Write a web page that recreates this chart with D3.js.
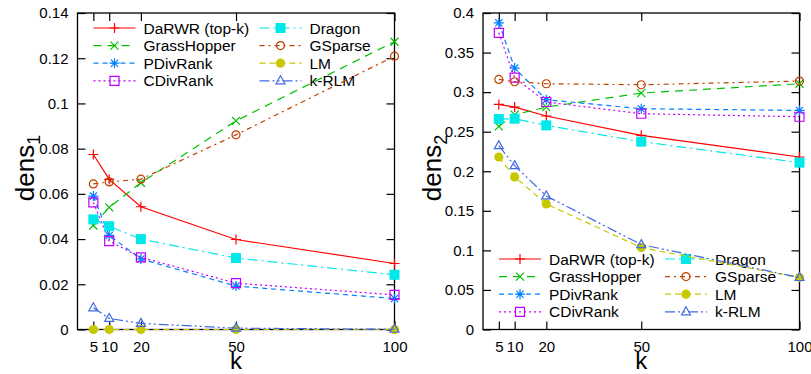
<!DOCTYPE html>
<html>
<head>
<meta charset="utf-8">
<script src="https://cdn.jsdelivr.net/npm/d3@7"></script>
<style>
  body { margin: 0; background: #fff; }
  svg text { font-family: "Liberation Sans", Arial, sans-serif; }
</style>
</head>
<body>
<div class="chart"></div>
<script>
let width = 811
let height = 374

// k values on the x axis
let kValues = [5, 10, 20, 50, 100]

let methods = ['DaRWR (top-k)', 'GrassHopper', 'PDivRank', 'CDivRank',
               'Dragon', 'GSparse', 'LM', 'k-RLM']

// dens1 (left panel), one array per method
let dens1DaRWR = [0.0774, 0.0664, 0.0543, 0.0398, 0.0292]
let dens1GrassHopper = [0.0460, 0.0540, 0.0649, 0.0923, 0.1273]
let dens1PDivRank = [0.0590, 0.0416, 0.0312, 0.0192, 0.0137]
let dens1CDivRank = [0.0562, 0.0391, 0.0319, 0.0205, 0.0153]
let dens1Dragon = [0.0487, 0.0457, 0.0400, 0.0316, 0.0242]
let dens1GSparse = [0.0644, 0.0653, 0.0665, 0.0861, 0.1209]
let dens1LM = [0, 0, 0, 0, 0]
let dens1KRLM = [0.0096, 0.0049, 0.0027, 0.0006, 0.0001]

// dens2 (right panel)
let dens2DaRWR = [0.2845, 0.2811, 0.2698, 0.2454, 0.2180]
let dens2GrassHopper = [0.2567, 0.2715, 0.2811, 0.2988, 0.3106]
let dens2PDivRank = [0.3876, 0.3304, 0.2904, 0.2790, 0.2769]
let dens2CDivRank = [0.3750, 0.3182, 0.2875, 0.2727, 0.2689]
let dens2Dragon = [0.2660, 0.2664, 0.2580, 0.2374, 0.2109]
let dens2GSparse = [0.3161, 0.3131, 0.3106, 0.3093, 0.3140]
let dens2LM = [0.2180, 0.1928, 0.1587, 0.1035, 0.0657]
let dens2KRLM = [0.2323, 0.2071, 0.1688, 0.1073, 0.0657]

let dens1Ticks = [0, 0.02, 0.04, 0.06, 0.08, 0.1, 0.12, 0.14]
let dens2Ticks = [0, 0.05, 0.1, 0.15, 0.2, 0.25, 0.3, 0.35, 0.4]

// gnuplot-ish line styles
let colors = ['#ff0000', '#00c000', '#0080ff', '#c000ff',
              '#00e8e8', '#c04000', '#c8c800', '#4169e1']
let dashes = [null, '8,6', '5,4', '2,3', '10,4,2,4', '5,4,2,4', '6,4', '10,3,2,3,2,3']
let markers = ['plus', 'cross', 'star', 'box', 'fbox', 'circle', 'fcircle', 'triangle']

let svg = d3.select('div.chart')
    .append('svg')
    .attr('width', width)
    .attr('height', height)

function drawMarker(g, type, color) {
    let strokeShapes = {
        plus: 'M-5,0H5M0,-5V5',
        cross: 'M-4,-4L4,4M-4,4L4,-4',
        star: 'M-5,0H5M0,-5V5M-3.6,-3.6L3.6,3.6M-3.6,3.6L3.6,-3.6',
        box: 'M-4.5,-4.5H4.5V4.5H-4.5Z',
        circle: 'M-4,0A4,4 0 1,0 4,0A4,4 0 1,0 -4,0Z',
        triangle: 'M0,-5L4.5,3L-4.5,3Z'
    }
    if (type == 'fbox') {
        g.append('rect').attr('x', -5).attr('y', -5).attr('width', 10).attr('height', 10)
            .style('fill', color)
    } else if (type == 'fcircle') {
        g.append('circle').attr('r', 4.6).style('fill', color)
    } else {
        g.append('path').attr('d', strokeShapes[type])
            .style('fill', 'none').style('stroke', color).style('stroke-width', 1.2)
    }
}

function tickText(d) {
    return d === 0 ? '0' : String(+d.toFixed(2))
}

function drawPanel(cfg) {
    let x = d3.scaleLinear().domain([0, 100]).range([cfg.left, cfg.right])
    let y = d3.scaleLinear().domain([0, cfg.yMax]).range([cfg.bottom, cfg.top])
    let g = svg.append('g')

    // axes with inward ticks, mirrored on top and right
    let ax = [
        [d3.axisBottom(x).tickValues(kValues).tickFormat(d3.format('d')).tickPadding(12), 'translate(0,' + cfg.bottom + ')'],
        [d3.axisTop(x).tickValues(kValues).tickFormat(''), 'translate(0,' + cfg.top + ')'],
        [d3.axisLeft(y).tickValues(cfg.ticks).tickFormat(tickText).tickPadding(9), 'translate(' + cfg.left + ',0)'],
        [d3.axisRight(y).tickValues(cfg.ticks).tickFormat(''), 'translate(' + cfg.right + ',0)']
    ]
    ax.forEach(function(a) {
        let ag = g.append('g')
            .attr('transform', a[1])
            .call(a[0].tickSizeInner(-8).tickSizeOuter(0))
        ag.select('.domain').remove()
        ag.selectAll('line').style('stroke', '#000').style('stroke-width', 1.2)
        ag.selectAll('text').style('font-size', '15px').style('fill', '#000')
            .style('font-family', '"Liberation Sans", Arial, sans-serif')
    })

    g.append('rect')
        .attr('x', cfg.left).attr('y', cfg.top)
        .attr('width', cfg.right - cfg.left).attr('height', cfg.bottom - cfg.top)
        .style('fill', 'none').style('stroke', '#000').style('stroke-width', 1.3)

    // legend (no background box)
    let lg = g.append('g')
    methods.forEach(function(name, i) {
        let col = Math.floor(i / 4)
        let row = i % 4
        let x0 = cfg.left + 16 + col * 166
        let yy = cfg.legendTop + row * 17.6
        lg.append('line')
            .attr('x1', x0).attr('x2', x0 + 42).attr('y1', yy).attr('y2', yy)
            .style('stroke', colors[i]).style('stroke-width', 1.2)
            .style('stroke-dasharray', dashes[i])
        drawMarker(lg.append('g').attr('transform', 'translate(' + (x0 + 21) + ',' + yy + ')'),
            markers[i], colors[i])
        lg.append('text')
            .attr('x', x0 + 50).attr('y', yy + 5.5)
            .style('font-size', '15.5px')
            .text(name)
    })

    // series lines and points
    let line = d3.line().x((d, i) => x(kValues[i])).y(d => y(d))
    cfg.series.forEach(function(vals, i) {
        g.append('path')
            .datum(vals)
            .attr('d', line)
            .style('fill', 'none')
            .style('stroke', colors[i])
            .style('stroke-width', 1.2)
            .style('stroke-dasharray', dashes[i])
        vals.forEach(function(v, j) {
            drawMarker(g.append('g').attr('transform', 'translate(' + x(kValues[j]) + ',' + y(v) + ')'),
                markers[i], colors[i])
        })
    })

    // axis titles
    g.append('text')
        .attr('x', (cfg.left + cfg.right) / 2).attr('y', 369)
        .attr('text-anchor', 'middle')
        .style('font-size', '24px')
        .text('k')
    let yt = g.append('text')
        .attr('transform', 'translate(' + cfg.titleX + ',168) rotate(-90)')
        .attr('text-anchor', 'middle')
        .style('font-size', '26px')
    yt.append('tspan').text('dens')
    yt.append('tspan').attr('dy', 6).style('font-size', '18px').text(cfg.sub)
}

drawPanel({
    left: 77.5, right: 394.5, top: 13, bottom: 329.5,
    yMax: 0.14, ticks: dens1Ticks, legendTop: 28, titleX: 34, sub: '1',
    series: [dens1DaRWR, dens1GrassHopper, dens1PDivRank, dens1CDivRank,
             dens1Dragon, dens1GSparse, dens1LM, dens1KRLM]
})

drawPanel({
    left: 483, right: 799.5, top: 13, bottom: 329.5,
    yMax: 0.4, ticks: dens2Ticks, legendTop: 259, titleX: 441, sub: '2',
    series: [dens2DaRWR, dens2GrassHopper, dens2PDivRank, dens2CDivRank,
             dens2Dragon, dens2GSparse, dens2LM, dens2KRLM]
})
</script>
</body>
</html>
